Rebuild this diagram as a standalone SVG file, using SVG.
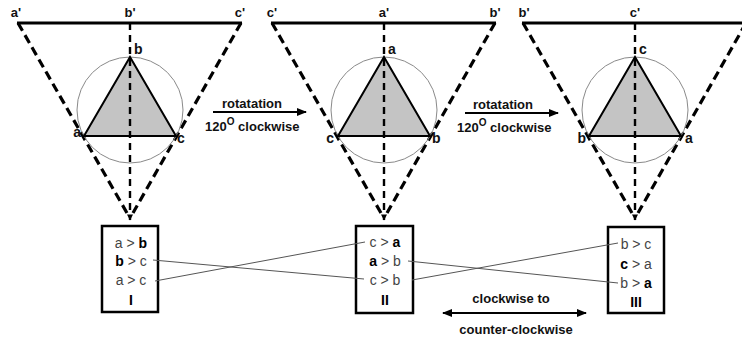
<svg xmlns="http://www.w3.org/2000/svg" width="742" height="341" viewBox="0 0 742 341">
<style>
text{font-family:"Liberation Sans",Arial,sans-serif}
.bar{stroke:#000;stroke-width:3;fill:none}
.side{stroke:#000;stroke-width:3.2;stroke-dasharray:9 5;fill:none}
.axis{stroke:#000;stroke-width:2.4;stroke-dasharray:7 5;fill:none}
.tri{fill:#c4c4c4;stroke:#000;stroke-width:2}
.circ{fill:none;stroke:#8a8a8a;stroke-width:1}
.lbl{font-size:13px;font-weight:bold;fill:#111}
.vlbl{font-size:14px;font-weight:bold;fill:#111}
.box{fill:#fff;stroke:#000;stroke-width:2.5}
.bt{font-size:14px;fill:#444;text-anchor:middle}
.bt tspan.b{font-weight:bold;fill:#000}
.num{font-size:14px;font-weight:bold;fill:#000;text-anchor:middle}
.cap{font-size:13px;font-weight:bold;fill:#111}
.cross{stroke:#555;stroke-width:1;fill:none}
.arr{stroke:#000;stroke-width:2;fill:none}
</style>
<defs>
<marker id="ah" viewBox="0 0 10 10" refX="9" refY="5" markerWidth="5" markerHeight="5" orient="auto-start-reverse" markerUnits="strokeWidth">
<path d="M0,1 L10,5 L0,9 z" fill="#000"/>
</marker>
<marker id="ad" viewBox="0 0 10 10" refX="9" refY="5" markerWidth="2.6" markerHeight="2.6" orient="auto" markerUnits="strokeWidth">
<path d="M0,0 L10,5 L0,10 z" fill="#000"/>
</marker>
<g id="frame">
<line class="bar" x1="-113" y1="23" x2="112" y2="23"/>
<line class="side" x1="-112" y1="23" x2="-3" y2="213"/>
<line class="side" x1="111" y1="23" x2="3" y2="213"/>
<circle class="circ" cx="0" cy="110" r="53"/>
<polygon class="tri" points="0,57 -46,136 46,136"/>
<line class="axis" x1="0" y1="23" x2="0" y2="220" marker-end="url(#ad)"/>
</g>
</defs>

<g id="panel1" transform="translate(130,0)">
<use href="#frame"/>
<text class="lbl" x="-114" y="17" text-anchor="middle">a'</text>
<text class="lbl" x="0" y="17" text-anchor="middle">b'</text>
<text class="lbl" x="110" y="17" text-anchor="middle">c'</text>
<text class="vlbl" x="4" y="54">b</text>
<text class="vlbl" x="-49" y="137" text-anchor="end">a</text>
<text class="vlbl" x="47" y="143">c</text>
</g>

<g id="panel2" transform="translate(384,0)">
<use href="#frame"/>
<text class="lbl" x="-112" y="17" text-anchor="middle">c'</text>
<text class="lbl" x="0" y="17" text-anchor="middle">a'</text>
<text class="lbl" x="111" y="17" text-anchor="middle">b'</text>
<text class="vlbl" x="4" y="54">a</text>
<text class="vlbl" x="-50" y="143" text-anchor="end">c</text>
<text class="vlbl" x="48" y="143">b</text>
</g>

<g id="panel3" transform="translate(635,0)">
<use href="#frame"/>
<text class="lbl" x="-111" y="17" text-anchor="middle">b'</text>
<text class="lbl" x="0" y="17" text-anchor="middle">c'</text>
<text class="vlbl" x="4" y="54">c</text>
<text class="vlbl" x="-49" y="143" text-anchor="end">b</text>
<text class="vlbl" x="50" y="143">a</text>
</g>

<g id="boxI">
<rect class="box" x="102" y="226" width="56" height="86"/>
<text class="bt" x="131" y="248">a &gt; <tspan class="b">b</tspan></text>
<text class="bt" x="131" y="266"><tspan class="b">b</tspan> &gt; c</text>
<text class="bt" x="131" y="285">a &gt; c</text>
<text class="num" x="131" y="305">I</text>
</g>

<g id="boxII">
<rect class="box" x="356" y="226" width="57" height="87"/>
<text class="bt" x="385" y="247">c &gt; <tspan class="b">a</tspan></text>
<text class="bt" x="385" y="266"><tspan class="b">a</tspan> &gt; b</text>
<text class="bt" x="385" y="285">c &gt; b</text>
<text class="num" x="385" y="305">II</text>
</g>

<g id="boxIII">
<rect class="box" x="608" y="227" width="56" height="86"/>
<text class="bt" x="636" y="249">b &gt; c</text>
<text class="bt" x="636" y="269"><tspan class="b">c</tspan> &gt; a</text>
<text class="bt" x="636" y="288">b &gt; <tspan class="b">a</tspan></text>
<text class="num" x="636" y="307">III</text>
</g>

<g id="connectors">
<line class="arr" x1="213" y1="112" x2="306" y2="112" marker-end="url(#ah)"/>
<text class="cap" x="252" y="108" text-anchor="middle">rotatation</text>
<text class="cap" x="205" y="131">120<tspan font-size="10" dy="-6">O</tspan><tspan dy="6"> clockwise</tspan></text>
<line class="arr" x1="465" y1="113" x2="558" y2="113" marker-end="url(#ah)"/>
<text class="cap" x="503" y="109" text-anchor="middle">rotatation</text>
<text class="cap" x="457" y="132">120<tspan font-size="10" dy="-6">O</tspan><tspan dy="6"> clockwise</tspan></text>

<line class="cross" x1="153" y1="260" x2="364" y2="279"/>
<line class="cross" x1="155" y1="281" x2="365" y2="242"/>
<line class="cross" x1="408" y1="261" x2="618" y2="283"/>
<line class="cross" x1="412" y1="280" x2="618" y2="243"/>

<line class="arr" x1="443" y1="313" x2="586" y2="313" marker-start="url(#ah)" marker-end="url(#ah)"/>
<text class="cap" x="511" y="303" text-anchor="middle">clockwise to</text>
<text class="cap" x="516" y="334" text-anchor="middle">counter-clockwise</text>
</g>
</svg>
